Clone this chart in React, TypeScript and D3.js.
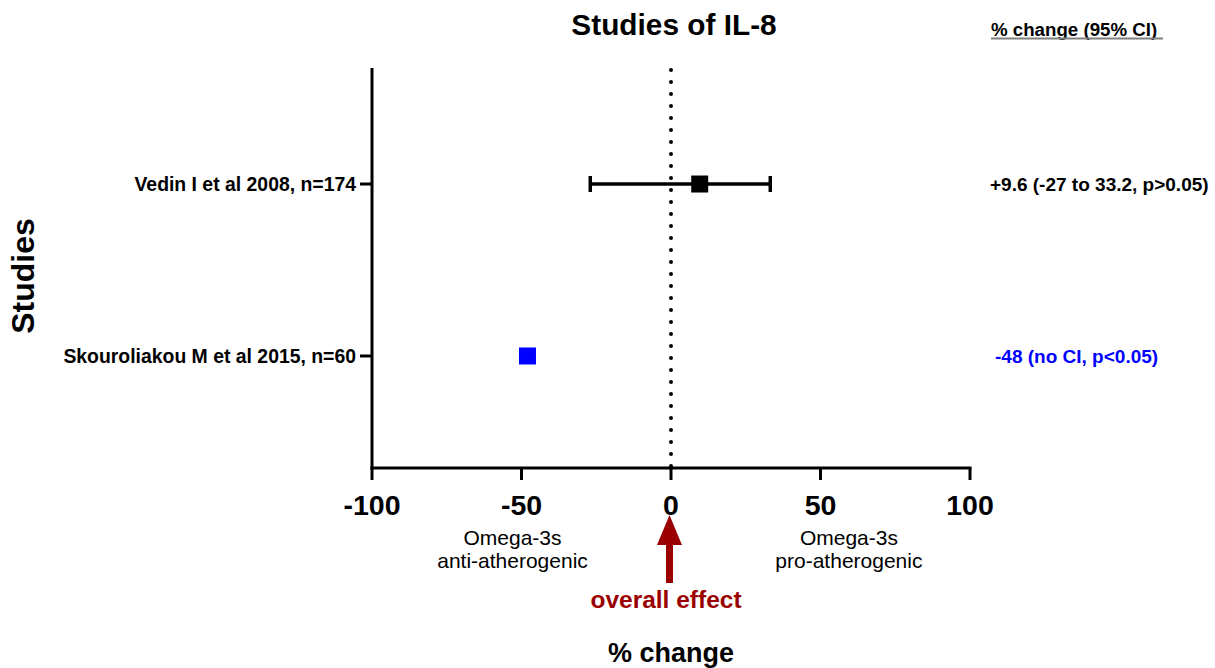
import React from "react";
import * as d3 from "d3";

// Forest plot data: IL-8 studies
const studies = ["Vedin I et al 2008, n=174", "Skouroliakou M et al 2015, n=60"];
const estimates = [9.6, -48];
const ciLow: (number | null)[] = [-27, null];
const ciHigh: (number | null)[] = [33.2, null];
const markColors = ["#000000", "#0000ff"];
const summaryTexts = ["+9.6 (-27 to 33.2, p>0.05)", "-48 (no CI, p<0.05)"];
const xTicks = [-100, -50, 0, 50, 100];

const W = 1215;
const H = 668;
const FONT = "'Liberation Sans', Arial, Helvetica, sans-serif";
const DARK_RED = "#9b0000";

export default function App() {
  const x = d3.scaleLinear().domain([-100, 100]).range([372, 970]);
  const y = d3.scalePoint<string>().domain(studies).range([70, 470]).padding(0.663);
  const axisTop = 68;
  const axisBottom = 468;
  const zeroX = x(0);
  const arrowX = zeroX - 1.5;

  // Arrow pointing up at the zero line
  const arrow = d3.path();
  arrow.moveTo(arrowX, 515);
  arrow.lineTo(arrowX + 12.5, 545);
  arrow.lineTo(arrowX + 3.5, 545);
  arrow.lineTo(arrowX + 3.5, 583);
  arrow.lineTo(arrowX - 3.5, 583);
  arrow.lineTo(arrowX - 3.5, 545);
  arrow.lineTo(arrowX - 12.5, 545);
  arrow.closePath();

  const sq = 17;

  return (
    <svg
      width={W}
      height={H}
      style={{ position: "absolute", left: 0, top: 0, display: "block", background: "#fff" }}
      fontFamily={FONT}
    >
      <rect width={W} height={H} fill="#fff" />
      {/* Title */}
      <text x={674} y={35} textAnchor="middle" fontSize={29.8} fontWeight="bold">
        Studies of IL-8
      </text>
      {/* Column header */}
      <text x={991} y={36} fontSize={18.7} fontWeight="bold">
        % change (95% CI)
      </text>
      <line x1={991} x2={1163} y1={38.5} y2={38.5} stroke="#808080" strokeWidth={2} />

      {/* Zero reference line */}
      <line
        x1={zeroX}
        x2={zeroX}
        y1={axisTop + 2}
        y2={axisBottom}
        stroke="#000"
        strokeWidth={4}
        strokeLinecap="round"
        strokeDasharray="0 12"
      />

      {/* Y axis */}
      <line x1={x(-100)} x2={x(-100)} y1={axisTop} y2={axisBottom + 1.5} stroke="#000" strokeWidth={3} />
      {studies.map((s) => (
        <g key={s}>
          <line x1={x(-100) - 12} x2={x(-100)} y1={y(s)} y2={y(s)} stroke="#000" strokeWidth={3} />
          <text
            x={x(-100) - 16}
            y={y(s)}
            dy="0.35em"
            textAnchor="end"
            fontSize={19.4}
            fontWeight="bold"
          >
            {s}
          </text>
        </g>
      ))}

      {/* X axis */}
      <line x1={x(-100) - 1.5} x2={x(100) + 1.5} y1={axisBottom} y2={axisBottom} stroke="#000" strokeWidth={3} />
      {xTicks.map((t) => (
        <g key={t}>
          <line x1={x(t)} x2={x(t)} y1={axisBottom} y2={axisBottom + 12} stroke="#000" strokeWidth={3} />
          <text x={x(t)} y={515} textAnchor="middle" fontSize={28.5} fontWeight="bold">
            {t}
          </text>
        </g>
      ))}

      {/* Estimates with confidence intervals */}
      {studies.map((s, i) => {
        const cy = y(s)!;
        const lo = ciLow[i];
        const hi = ciHigh[i];
        return (
          <g key={"m" + s}>
            {lo !== null && hi !== null && (
              <g stroke={markColors[i]} strokeWidth={3.5}>
                <line x1={x(lo)} x2={x(hi)} y1={cy} y2={cy} />
                <line x1={x(lo)} x2={x(lo)} y1={cy - 8} y2={cy + 8} />
                <line x1={x(hi)} x2={x(hi)} y1={cy - 8} y2={cy + 8} />
              </g>
            )}
            <rect
              x={x(estimates[i]) - sq / 2}
              y={cy - sq / 2}
              width={sq}
              height={sq}
              fill={markColors[i]}
            />
            <text
              x={i === 0 ? 990 : 995}
              y={cy}
              dy="0.35em"
              fontSize={19}
              fontWeight="bold"
              fill={markColors[i]}
            >
              {summaryTexts[i]}
            </text>
          </g>
        );
      })}

      {/* Y axis title */}
      <text
        transform={`translate(34,${276}) rotate(-90)`}
        textAnchor="middle"
        fontSize={32}
        fontWeight="bold"
      >
        Studies
      </text>

      {/* Direction annotations */}
      <text x={x(-53)} y={545} textAnchor="middle" fontSize={21}>
        Omega-3s
      </text>
      <text x={x(-53)} y={568} textAnchor="middle" fontSize={21}>
        anti-atherogenic
      </text>
      <text x={x(59.5)} y={545} textAnchor="middle" fontSize={21}>
        Omega-3s
      </text>
      <text x={x(59.5)} y={568} textAnchor="middle" fontSize={21}>
        pro-atherogenic
      </text>

      {/* Overall effect arrow */}
      <path d={arrow.toString()} fill={DARK_RED} />
      <text x={666} y={608} textAnchor="middle" fontSize={24.5} fontWeight="bold" fill={DARK_RED}>
        overall effect
      </text>

      {/* X axis title */}
      <text x={zeroX} y={662} textAnchor="middle" fontSize={27} fontWeight="bold">
        % change
      </text>
    </svg>
  );
}
